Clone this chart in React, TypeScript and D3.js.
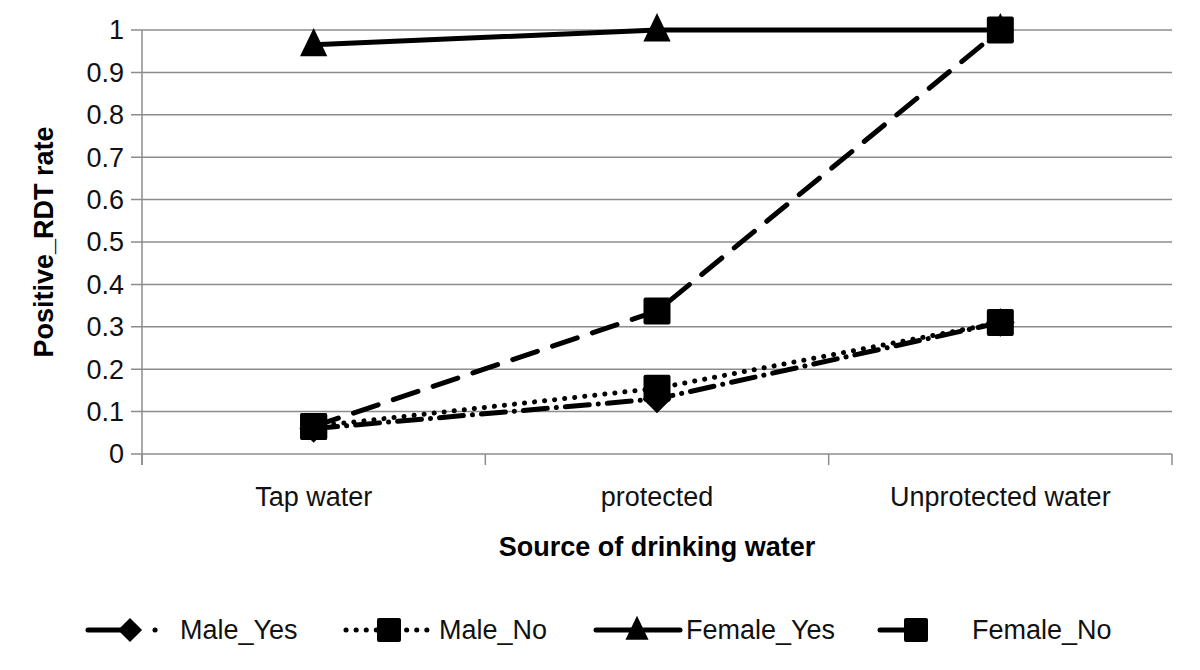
import React from "react";
import * as d3 from "d3";

const categories = ["Tap water", "protected", "Unprotected water"];
const maleYes = [0.06, 0.13, 0.31];
const maleNo = [0.065, 0.155, 0.31];
const femaleYes = [0.965, 1.0, 1.0];
const femaleNo = [0.065, 0.337, 1.0];
const yTicks = [0, 0.1, 0.2, 0.3, 0.4, 0.5, 0.6, 0.7, 0.8, 0.9, 1];
const seriesNames = ["Male_Yes", "Male_No", "Female_Yes", "Female_No"];

const FONT = "'Liberation Sans Narrow', 'Arial Narrow', 'Liberation Sans', sans-serif";
const GRID = "#8c8c8c";

type Marker = "diamond" | "square" | "triangle";
const series: { name: string; values: number[]; dash: string; legendDash: string; marker: Marker }[] = [
  { name: seriesNames[0], values: maleYes, dash: "24 9 0.1 9", legendDash: "42 25 0.1 100", marker: "diamond" },
  { name: seriesNames[1], values: maleNo, dash: "0.1 10", legendDash: "0.1 10", marker: "square" },
  { name: seriesNames[2], values: femaleYes, dash: "", legendDash: "", marker: "triangle" },
  { name: seriesNames[3], values: femaleNo, dash: "26 16", legendDash: "", marker: "square" },
];

function MarkerShape({ type, x, y, s }: { type: Marker; x: number; y: number; s: number }) {
  if (type === "square") {
    return <rect x={x - s / 2} y={y - s / 2} width={s} height={s} rx={2} fill="#000" />;
  }
  if (type === "diamond") {
    const h = s * 0.55;
    return <path d={`M${x},${y - h}L${x + h},${y}L${x},${y + h}L${x - h},${y}Z`} fill="#000" />;
  }
  const h = s * 1.05;
  return <path d={`M${x},${y - h * 0.62}L${x + h / 2},${y + h * 0.42}L${x - h / 2},${y + h * 0.42}Z`} fill="#000" />;
}

export default function App() {
  const left = 142, right = 1172, top = 30, bottom = 454;
  const x = d3.scalePoint<string>().domain(categories).range([left, right]).padding(0.5);
  const y = d3.scaleLinear().domain([0, 1]).range([bottom, top]);
  const line = d3.line<number>().x((_, i) => x(categories[i]) as number).y((v) => y(v));
  const step = x.step();
  const boundaries = d3.range(categories.length + 1).map((i) => left + i * step);

  const legendItems = [
    { lx1: 88, lx2: 160, mx: 130, tx: 180 },
    { lx1: 346, lx2: 432, mx: 389, tx: 439 },
    { lx1: 596, lx2: 680, mx: 637, tx: 686 },
    { lx1: 880, lx2: 916, mx: 916, tx: 972 },
  ];
  const ly = 630;

  return (
    <svg width={1200} height={670} style={{ position: "absolute", left: 0, top: 0, background: "#fff" }}>
      <rect width={1200} height={670} fill="#fff" />
      {yTicks.map((t) => (
        <g key={t}>
          <line x1={left - 11} x2={right} y1={y(t)} y2={y(t)} stroke={GRID} strokeWidth={1.5} />
          <text x={left - 18} y={y(t)} dy="0.35em" textAnchor="end" fontFamily={FONT} fontSize={27} fill="#111">
            {t}
          </text>
        </g>
      ))}
      <line x1={left} x2={left} y1={top} y2={bottom + 11} stroke={GRID} strokeWidth={1.5} />
      {boundaries.map((b, i) => (
        <line key={i} x1={b} x2={b} y1={bottom} y2={bottom + 11} stroke={GRID} strokeWidth={1.5} />
      ))}
      {categories.map((c) => (
        <text key={c} x={x(c)} y={506} textAnchor="middle" fontFamily={FONT} fontSize={27} fill="#111">
          {c}
        </text>
      ))}
      <text x={657} y={556} textAnchor="middle" fontFamily={FONT} fontSize={27} fontWeight="bold">
        Source of drinking water
      </text>
      <text
        transform={`translate(53,${(top + bottom) / 2}) rotate(-90)`}
        textAnchor="middle"
        fontFamily={FONT}
        fontSize={27}
        fontWeight="bold"
      >
        Positive_RDT rate
      </text>

      {series.map((s) => (
        <g key={s.name}>
          <path
            d={line(s.values) || ""}
            fill="none"
            stroke="#000"
            strokeWidth={5}
            strokeDasharray={s.dash || undefined}
            strokeLinecap="round"
          />
          {s.values.map((v, i) => (
            <MarkerShape
              key={i}
              type={s.marker}
              x={x(categories[i]) as number}
              y={y(v)}
              s={s.marker === "square" ? 27 : 26}
            />
          ))}
        </g>
      ))}

      {series.map((s, i) => {
        const it = legendItems[i];
        return (
          <g key={s.name}>
            <line
              x1={it.lx1}
              x2={it.lx2}
              y1={ly}
              y2={ly}
              stroke="#000"
              strokeWidth={5}
              strokeDasharray={s.legendDash || undefined}
              strokeLinecap="round"
            />
            <MarkerShape type={s.marker} x={it.mx} y={ly} s={s.marker === "square" ? 24 : 22} />
            <text x={it.tx} y={ly} dy="0.35em" fontFamily={FONT} fontSize={27} fill="#111">
              {s.name}
            </text>
          </g>
        );
      })}
    </svg>
  );
}
